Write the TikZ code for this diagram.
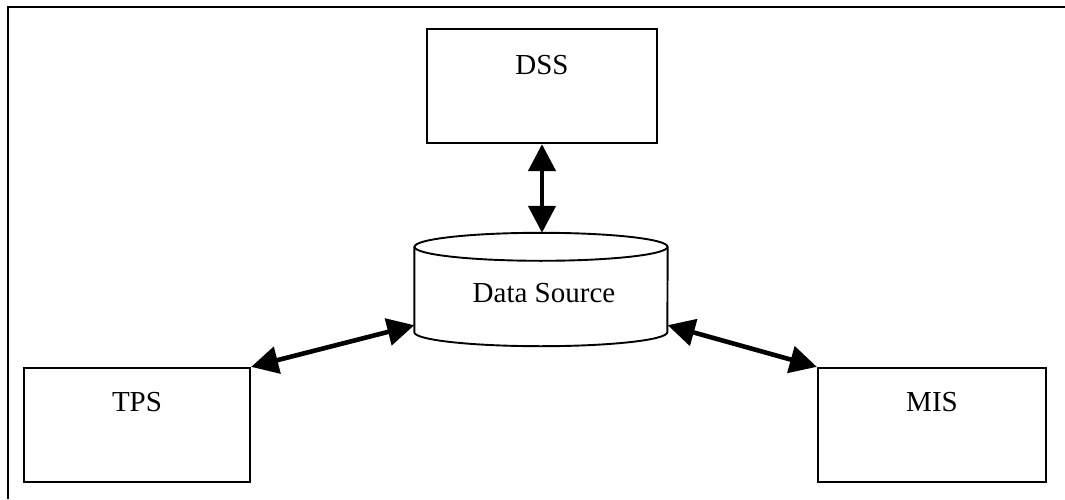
\documentclass[tikz,border=0pt]{standalone}
\usepackage{fontspec}
\setmainfont{Liberation Serif}
\usetikzlibrary{arrows.meta}
\begin{document}
\begin{tikzpicture}[x=1pt,y=1pt,
  sysbox/.style={draw, line width=2.3pt, minimum width=#1, minimum height=114pt, inner sep=0pt},
  store/.style={minimum width=253pt, minimum height=113pt, inner sep=0pt},
  lbl/.style={anchor=base, inner sep=0pt, font=\fontsize{29}{34}\selectfont},
  link/.style={line width=4.6pt, {Triangle[length=27pt,width=27pt]}-{Triangle[length=27pt,width=27pt]}}
]
\useasboundingbox (0,0) rectangle (1065,499);

% outer frame
\coordinate (fr1) at (1065,491.5);
\coordinate (fr2) at (7.5,491.5);
\coordinate (fr3) at (7.5,0);
\draw[line width=2pt] (fr1) -- (fr2) -- (fr3);

% systems
\node[sysbox=226pt] (tps) at (137,74) {};
\node[sysbox=228pt] (mis) at (932,74) {};
\node[sysbox=230pt] (dss) at (542,413) {};

% data store (cylinder)
\node[store] (ds) at (541,209.5) {};
\draw[line width=1.9pt]
  ([yshift=-14pt]ds.north west) -- ([yshift=14pt]ds.south west)
  arc[start angle=180, end angle=360, x radius=126.5pt, y radius=14pt]
  -- ([yshift=-14pt]ds.north east);
\draw[line width=1.9pt] ([yshift=-14pt]ds.north) ellipse [x radius=126.5pt, y radius=14pt];

% labels
\node[lbl] (tpsl) at ([yshift=-45pt]tps.north) {TPS};
\node[lbl] (misl) at ([yshift=-45pt]mis.north) {MIS};
\node[lbl] (dssl) at ([yshift=-47pt]dss.north) {DSS};
\node[lbl] (dsl) at ([yshift=-70pt,xshift=3pt]ds.north) {Data Source};

% connections
\draw[link] (dss.south) -- (dss.south |- ds.north);
\draw[link] (tps.north east) -- ([yshift=21pt]ds.south west);
\draw[link] ([yshift=21pt]ds.south east) -- (mis.north west);
\end{tikzpicture}
\end{document}
